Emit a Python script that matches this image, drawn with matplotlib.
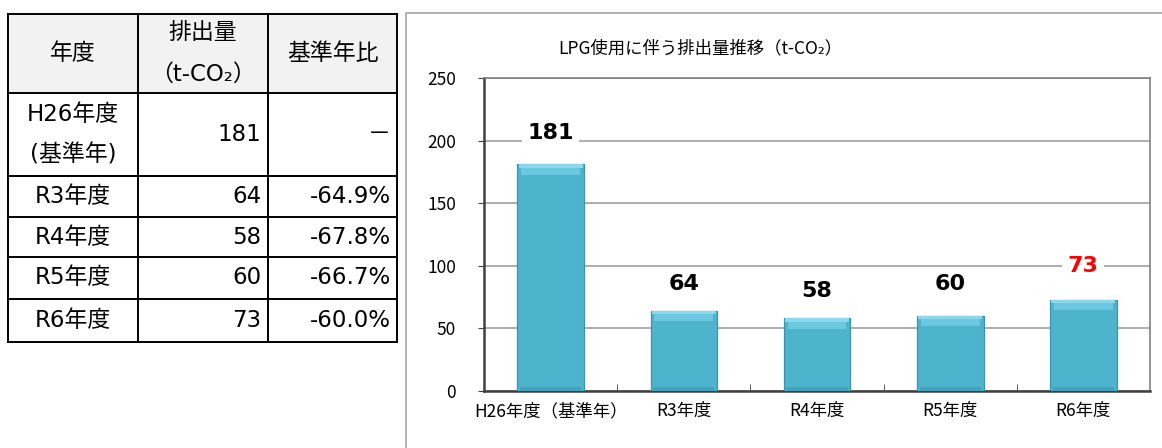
import matplotlib.pyplot as plt
from matplotlib.patches import Rectangle

# data
years = ["H26年度（基準年）", "R3年度", "R4年度", "R5年度", "R6年度"]
emissions = [181, 64, 58, 60, 73]
label_colors = ["black", "black", "black", "black", "#ff0000"]
label_offsets = [31, 27, 27, 32, 34]  # px above bar top, as placed in the source chart

tbl_years = ["H26年度\n(基準年)", "R3年度", "R4年度", "R5年度", "R6年度"]
tbl_values = ["181", "64", "58", "60", "73"]
tbl_ratio = ["－", "-64.9%", "-67.8%", "-66.7%", "-60.0%"]

W, H = 1162, 448
fig = plt.figure(figsize=(W / 100, H / 100), dpi=100)

# background layer in pixel coords (table + panel border)
bg = fig.add_axes([0, 0, 1, 1])
bg.set_xlim(0, W)
bg.set_ylim(H, 0)
bg.axis("off")

tfont = ["DejaVu Sans", "Noto Sans CJK JP"]
cols = [8, 138, 268, 397]
rows = [14, 93, 176, 217, 257, 299, 342]

bg.add_patch(Rectangle((cols[0], rows[0]), cols[-1] - cols[0], rows[1] - rows[0],
                       facecolor="#f2f2f2", edgecolor="none"))
for x in cols:
    bg.plot([x, x], [rows[0], rows[-1]], color="black", lw=1.4, solid_capstyle="projecting")
for y in rows:
    bg.plot([cols[0], cols[-1]], [y, y], color="black", lw=1.4, solid_capstyle="projecting")

fs = 16.5
cy = (rows[0] + rows[1]) / 2
bg.text((cols[0] + cols[1]) / 2, cy, "年度", ha="center", va="center", fontsize=fs, family=tfont)
bg.text((cols[1] + cols[2]) / 2, cy - 21, "排出量", ha="center", va="center", fontsize=fs, family=tfont)
bg.text((cols[1] + cols[2]) / 2, cy + 21, "（t-CO₂）", ha="center", va="center", fontsize=fs, family=tfont)
bg.text((cols[2] + cols[3]) / 2, cy, "基準年比", ha="center", va="center", fontsize=fs, family=tfont)

for i in range(len(tbl_years)):
    yc = (rows[i + 1] + rows[i + 2]) / 2
    if "\n" in tbl_years[i]:
        a, b = tbl_years[i].split("\n")
        bg.text((cols[0] + cols[1]) / 2, yc - 20, a, ha="center", va="center", fontsize=fs, family=tfont)
        bg.text((cols[0] + cols[1]) / 2, yc + 20, b, ha="center", va="center", fontsize=fs, family=tfont)
    else:
        bg.text((cols[0] + cols[1]) / 2, yc, tbl_years[i], ha="center", va="center", fontsize=fs, family=tfont)
    bg.text(cols[2] - 7, yc, tbl_values[i], ha="right", va="center", fontsize=fs, family=tfont)
    bg.text(cols[3] - 6, yc, tbl_ratio[i], ha="right", va="center", fontsize=fs, family=tfont)

# chart panel border
bg.plot([406, 406, W + 5], [H + 5, 13, 13], color="#a6a6a6", lw=1.2)

cfont = ["Noto Sans CJK JP", "DejaVu Sans"]
bg.text(700, 48, "LPG使用に伴う排出量推移（t-CO₂）", ha="center", va="center",
        fontsize=12.5, family=cfont)

# bar chart
x0, x1, y0, y1 = 484, 1150, 78, 391
ax = fig.add_axes([x0 / W, 1 - y1 / H, (x1 - x0) / W, (y1 - y0) / H])
xs = list(range(len(years)))
ax.bar(xs, emissions, width=0.5, color="#4eb3cd", edgecolor="#3d94aa", linewidth=0.9, zorder=3)
# bevel: light top band, darker bottom band
ax.bar(xs, [2.8] * len(xs), bottom=[v - 2.8 for v in emissions], width=0.48,
       color="#8bd8ec", edgecolor="none", zorder=4)
ax.bar(xs, [5.5] * len(xs), bottom=[v - 8.3 for v in emissions], width=0.44,
       color="#6cc8e0", edgecolor="none", zorder=4)
ax.bar(xs, [3] * len(xs), width=0.46, color="#44a2ba", edgecolor="none", zorder=4)

ax.set_xlim(-0.5, len(years) - 0.5)
ax.set_ylim(0, 250)
ax.set_yticks(range(0, 251, 50))
ax.yaxis.grid(True, color="#a0a0a0", lw=1.2)
ax.set_axisbelow(True)
ax.set_xticks(xs)
ax.set_xticklabels(years, family=cfont, fontsize=12.5)
ax.set_xticks([i + 0.5 for i in xs[:-1]], minor=True)
ax.tick_params(axis="x", which="major", length=0, pad=8)
ax.tick_params(axis="x", which="minor", direction="in", length=5, color="#404040")
ax.tick_params(axis="y", length=4, color="#404040", labelsize=12.5, pad=16)
for lab in ax.get_yticklabels():
    lab.set_family(cfont)
for s in ["top", "right"]:
    ax.spines[s].set_color("#808080")
    ax.spines[s].set_linewidth(1.2)
for s in ["left", "bottom"]:
    ax.spines[s].set_color("#404040")
    ax.spines[s].set_linewidth(1.8)

for i, v in enumerate(emissions):
    ax.annotate(str(v), (i, v), xytext=(0, label_offsets[i]), textcoords="offset pixels",
                ha="center", va="center", fontsize=16, fontweight="bold",
                family="DejaVu Sans", color=label_colors[i], zorder=6,
                bbox=dict(facecolor="white", edgecolor="none", pad=4))

fig.savefig("out.png", dpi=100)
